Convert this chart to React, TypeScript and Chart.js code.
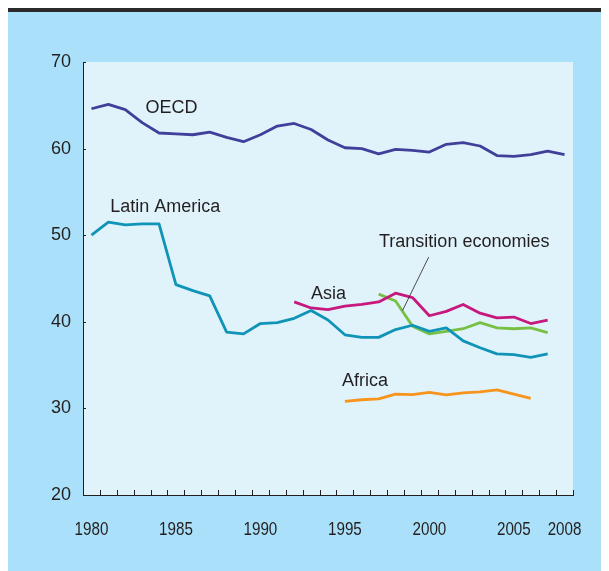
import React, { useEffect, useRef } from "react";
import { Chart, registerables } from "chart.js";

Chart.register(...registerables);

const years = [
  "1980", "1981", "1982", "1983", "1984", "1985", "1986", "1987", "1988", "1989",
  "1990", "1991", "1992", "1993", "1994", "1995", "1996", "1997", "1998", "1999",
  "2000", "2001", "2002", "2003", "2004", "2005", "2006", "2007", "2008",
];
const shownYears = ["1980", "1985", "1990", "1995", "2000", "2005", "2008"];
const yTicks = [20, 30, 40, 50, 60, 70];

const oecd = [64.6, 65.1, 64.5, 63.0, 61.8, 61.7, 61.6, 61.9, 61.3, 60.8, 61.6, 62.6, 62.9, 62.2, 61.0, 60.1, 60.0, 59.4, 59.9, 59.8, 59.6, 60.5, 60.7, 60.3, 59.2, 59.1, 59.3, 59.7, 59.3];
const latinAmerica = [50.0, 51.5, 51.2, 51.3, 51.3, 44.3, 43.6, 43.0, 38.8, 38.6, 39.8, 39.9, 40.4, 41.3, 40.2, 38.5, 38.2, 38.2, 39.1, 39.6, 38.9, 39.3, 37.8, 37.0, 36.3, 36.2, 35.9, 36.3, null];
const asia = [null, null, null, null, null, null, null, null, null, null, null, null, 42.3, 41.6, 41.4, 41.8, 42.0, 42.3, 43.3, 42.8, 40.7, 41.2, 42.0, 41.0, 40.45, 40.55, 39.8, 40.2, null];
const transition = [null, null, null, null, null, null, null, null, null, null, null, null, null, null, null, null, null, 43.2, 42.4, 39.5, 38.6, 38.9, 39.2, 39.9, 39.3, 39.2, 39.3, 38.75, null];
const africa = [null, null, null, null, null, null, null, null, null, null, null, null, null, null, null, 30.8, 31.0, 31.1, 31.65, 31.6, 31.85, 31.55, 31.8, 31.9, 32.15, 31.65, 31.15, null, null];

const TEXT = "#231f20";
const FONT = "'Liberation Sans', Arial, sans-serif";

const seriesLabels = [
  { text: "OECD", x: 3.2, y: 64.1 },
  { text: "Latin America", x: 1.11, y: 52.67 },
  { text: "Asia", x: 13.0, y: 42.65 },
  { text: "Transition economies", x: 17.02, y: 48.62 },
  { text: "Africa", x: 14.83, y: 32.62 },
];
const leader = { x1: 19.96, y1: 47.47, x2: 18.41, y2: 41.3 };

const decorPlugin = {
  id: "decor",
  beforeDraw(chart: any) {
    const { ctx, chartArea: a } = chart;
    ctx.save();
    ctx.fillStyle = "#e0f3fb";
    ctx.fillRect(a.left, a.top, a.right - a.left, a.bottom - a.top);
    ctx.restore();
  },
  afterDraw(chart: any) {
    const { ctx, chartArea: a } = chart;
    const xs = chart.scales.x;
    const ys = chart.scales.y;
    ctx.save();
    ctx.strokeStyle = TEXT;
    ctx.lineWidth = 1;
    // inward x ticks at category boundaries
    for (let i = 0; i <= years.length; i++) {
      const px = Math.round(xs.getPixelForValue(i - 0.5)) + 0.5;
      ctx.beginPath();
      ctx.moveTo(px, a.bottom);
      ctx.lineTo(px, a.bottom - 5);
      ctx.stroke();
    }
    // inward y ticks
    for (const v of yTicks) {
      const py = Math.round(ys.getPixelForValue(v)) + 0.5;
      ctx.beginPath();
      ctx.moveTo(a.left, py);
      ctx.lineTo(a.left + 3, py);
      ctx.stroke();
    }
    // leader line
    ctx.beginPath();
    ctx.lineWidth = 0.8;
    ctx.moveTo(xs.getPixelForValue(leader.x1), ys.getPixelForValue(leader.y1));
    ctx.lineTo(xs.getPixelForValue(leader.x2), ys.getPixelForValue(leader.y2));
    ctx.stroke();
    // series labels
    ctx.fillStyle = TEXT;
    ctx.font = `18px ${FONT}`;
    ctx.textAlign = "left";
    ctx.textBaseline = "alphabetic";
    for (const l of seriesLabels) {
      ctx.fillText(l.text, xs.getPixelForValue(l.x), ys.getPixelForValue(l.y));
    }
    // condensed x-axis year labels
    ctx.font = `19px ${FONT}`;
    ctx.textAlign = "center";
    const squeeze = 0.8;
    years.forEach((yr, i) => {
      if (!shownYears.includes(yr)) return;
      const cx = xs.getPixelForValue(i);
      ctx.save();
      ctx.translate(cx, a.bottom + 40);
      ctx.scale(squeeze, 1);
      ctx.fillText(yr, 0, 0);
      ctx.restore();
    });
    ctx.restore();
  },
};

export default function App() {
  const ref = useRef<HTMLCanvasElement | null>(null);
  useEffect(() => {
    if (!ref.current) return;
    const mk = (label: string, data: any[], color: string) => ({
      label,
      data,
      borderColor: color,
      backgroundColor: color,
      borderWidth: 2.8,
      pointRadius: 0,
      tension: 0,
      spanGaps: false,
      borderJoinStyle: "round" as const,
    });
    const chart = new Chart(ref.current, {
      type: "line",
      data: {
        labels: years,
        datasets: [
          mk("OECD", oecd, "#40409a"),
          mk("Latin America", latinAmerica, "#0f94b8"),
          mk("Asia", asia, "#c7197d"),
          mk("Transition economies", transition, "#78c043"),
          mk("Africa", africa, "#f7941e"),
        ],
      },
      options: {
        animation: false,
        responsive: false,
        layout: { padding: { top: 50, right: 36, left: 0, bottom: 0 } },
        plugins: { legend: { display: false }, tooltip: { enabled: false } },
        scales: {
          x: {
            type: "category",
            offset: true,
            grid: { display: false, drawTicks: false },
            border: { display: true, color: TEXT, width: 1 },
            ticks: {
              autoSkip: false,
              maxRotation: 0,
              color: TEXT,
              font: { family: FONT, size: 19 },
              callback: () => "",
            },
            afterFit: (s: any) => { s.height = 76; },
          },
          y: {
            min: 20,
            max: 70,
            grid: { display: false, drawTicks: false },
            border: { display: true, color: TEXT, width: 1 },
            ticks: {
              stepSize: 10,
              padding: 12,
              color: TEXT,
              font: { family: FONT, size: 18 },
            },
            afterFit: (s: any) => { s.width = 75; },
          },
        },
      },
      plugins: [decorPlugin],
    });
    return () => chart.destroy();
  }, []);
  return (
    <div style={{ width: 601, height: 559, background: "#aae0f9", borderTop: "4px solid #2b2b2b" }}>
      <canvas ref={ref} width={601} height={559} style={{ display: "block" }} />
    </div>
  );
}
